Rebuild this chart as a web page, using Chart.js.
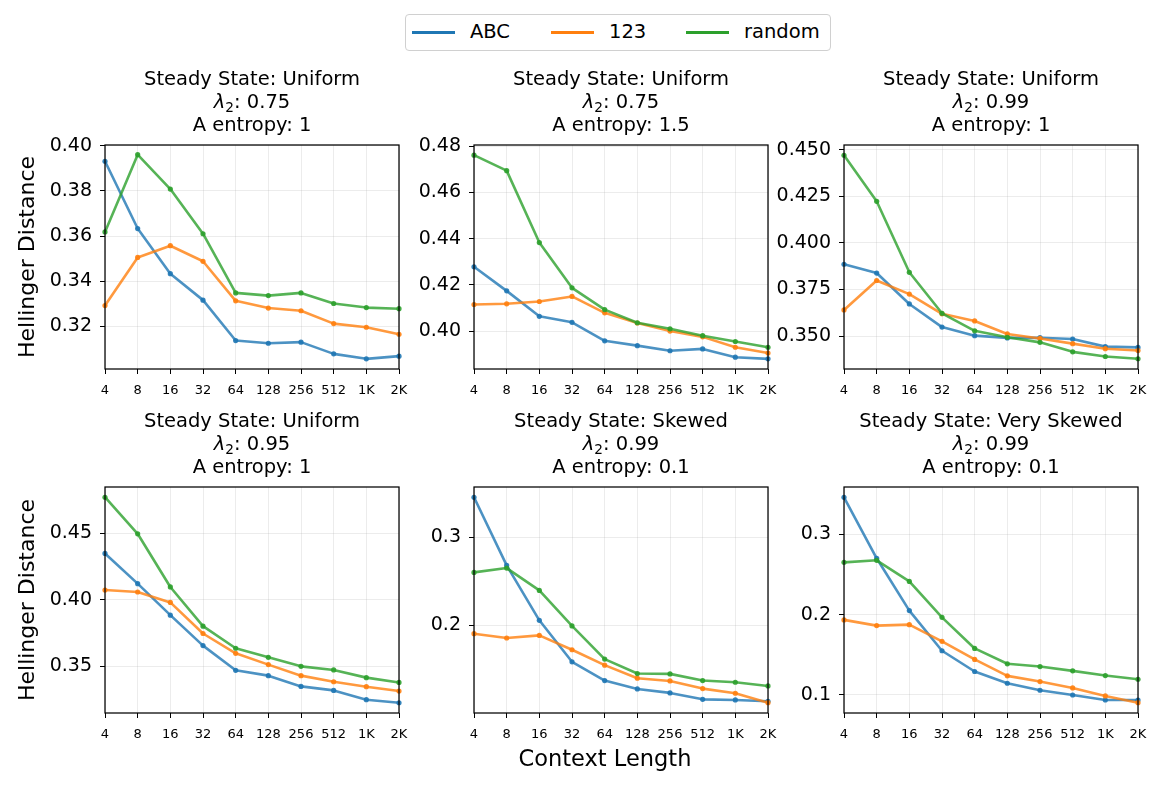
<!DOCTYPE html>
<html>
<head>
<meta charset="utf-8">
<script src="https://cdn.jsdelivr.net/npm/chart.js@4.4.0/dist/chart.umd.min.js"></script>
<style>
  body { margin: 0; width: 1162px; height: 786px; background: #fff; position: relative; overflow: hidden;
         font-family: "DejaVu Sans", sans-serif; color: #000; }
  canvas { position: absolute; }
  .title { position: absolute; width: 360px; text-align: center; font-size: 19.5px; line-height: 23px; white-space: nowrap; }
  .title sub { font-size: 70%; vertical-align: -0.3em; line-height: 0; }
  .ylab { position: absolute; font-size: 22px; white-space: nowrap; transform: translate(-50%, -50%) rotate(-90deg); }
  .xlab { position: absolute; font-size: 22.5px; white-space: nowrap; transform: translate(-50%, -50%); }
  #legend { position: absolute; left: 405px; top: 14px; width: 424px; height: 35px; border: 1px solid #d0d0d0;
            border-radius: 4px; font-size: 19.5px; }
  .sw { position: absolute; top: 16px; width: 43px; height: 3px; }
  .lt { position: absolute; top: 5px; }
</style>
</head>
<body>
<div id="legend"></div>

<script>
// x categories (context length)
const contextLengths = ['4', '8', '16', '32', '64', '128', '256', '512', '1K', '2K'];
const seriesNames = ['ABC', '123', 'random'];
const seriesColors = ['31,119,180', '255,127,14', '44,160,44'];

// panel titles
const steadyStates = ['Uniform', 'Uniform', 'Uniform', 'Uniform', 'Skewed', 'Very Skewed'];
const lambdas = ['0.75', '0.75', '0.99', '0.95', '0.99', '0.99'];
const entropies = ['1', '1.5', '1', '1', '0.1', '0.1'];

// Hellinger distance per panel
const abcValues = [
  [0.3931, 0.3633, 0.3433, 0.3316, 0.3137, 0.3125, 0.3130, 0.3078, 0.3056, 0.3068],
  [0.4278, 0.4174, 0.4064, 0.4038, 0.3958, 0.3937, 0.3915, 0.3923, 0.3887, 0.3880],
  [0.3885, 0.3838, 0.3672, 0.3548, 0.3502, 0.3490, 0.3491, 0.3484, 0.3443, 0.3439],
  [0.4349, 0.4122, 0.3885, 0.3656, 0.3470, 0.3430, 0.3349, 0.3319, 0.3249, 0.3226],
  [0.3453, 0.2680, 0.2057, 0.1586, 0.1373, 0.1278, 0.1233, 0.1160, 0.1153, 0.1138],
  [0.3459, 0.2700, 0.2050, 0.1550, 0.1292, 0.1146, 0.1059, 0.1000, 0.0938, 0.0938]
];
const numValues = [
  [0.3292, 0.3505, 0.3557, 0.3488, 0.3313, 0.3281, 0.3269, 0.3212, 0.3196, 0.3165],
  [0.4115, 0.4118, 0.4128, 0.4150, 0.4079, 0.4035, 0.4000, 0.3975, 0.3930, 0.3905],
  [0.3640, 0.3798, 0.3725, 0.3619, 0.3581, 0.3511, 0.3487, 0.3459, 0.3432, 0.3422],
  [0.4074, 0.4059, 0.3981, 0.3747, 0.3598, 0.3513, 0.3430, 0.3384, 0.3347, 0.3314],
  [0.1905, 0.1856, 0.1886, 0.1723, 0.1548, 0.1400, 0.1369, 0.1282, 0.1229, 0.1122],
  [0.1934, 0.1863, 0.1875, 0.1667, 0.1442, 0.1238, 0.1167, 0.1088, 0.0988, 0.0904]
];
const randomValues = [
  [0.3618, 0.3960, 0.3808, 0.3610, 0.3348, 0.3336, 0.3348, 0.3301, 0.3283, 0.3278],
  [0.4761, 0.4694, 0.4383, 0.4187, 0.4093, 0.4036, 0.4010, 0.3980, 0.3955, 0.3930],
  [0.4470, 0.4223, 0.3842, 0.3622, 0.3528, 0.3493, 0.3466, 0.3415, 0.3390, 0.3378],
  [0.4772, 0.4497, 0.4097, 0.3802, 0.3636, 0.3568, 0.3500, 0.3473, 0.3415, 0.3379],
  [0.2601, 0.2650, 0.2396, 0.1993, 0.1617, 0.1453, 0.1449, 0.1373, 0.1354, 0.1312],
  [0.2650, 0.2675, 0.2413, 0.1966, 0.1579, 0.1388, 0.1354, 0.1300, 0.1242, 0.1196]
];

// y axes
const yMin = [0.3011, 0.3836, 0.3323, 0.3149, 0.1005, 0.0776];
const yMax = [0.4003, 0.4805, 0.4525, 0.4849, 0.3570, 0.3587];
const yTicks = [
  [0.32, 0.34, 0.36, 0.38, 0.40],
  [0.40, 0.42, 0.44, 0.46, 0.48],
  [0.35, 0.375, 0.40, 0.425, 0.45],
  [0.35, 0.40, 0.45],
  [0.2, 0.3],
  [0.1, 0.2, 0.3]
];
const yDecimals = [2, 2, 3, 2, 1, 1];

// layout of plot areas
const colLeft = [105, 474, 844];
const rowTop = [145, 487];
const plotW = 294;
const rowH = [224, 226];
const padL = 70, padT = 26, padR = 24, padB = 38;

// box round each plot, like matplotlib spines
const framePlugin = {
  id: 'frame',
  afterDraw(chart) {
    const a = chart.chartArea, ctx = chart.ctx;
    ctx.save();
    ctx.strokeStyle = '#000';
    ctx.lineWidth = 1.25;
    ctx.strokeRect(a.left, a.top, a.right - a.left, a.bottom - a.top);
    ctx.restore();
  }
};

// legend
const legend = document.getElementById('legend');
const swX = [6, 145, 280];
const txtX = [64, 203, 338];
seriesNames.forEach((n, i) => {
  const s = document.createElement('div');
  s.className = 'sw';
  s.style.left = swX[i] + 'px';
  s.style.background = 'rgb(' + seriesColors[i] + ')';
  legend.appendChild(s);
  const t = document.createElement('div');
  t.className = 'lt';
  t.style.left = txtX[i] + 'px';
  t.textContent = n;
  legend.appendChild(t);
});

function addDiv(cls, html, x, y) {
  const d = document.createElement('div');
  d.className = cls;
  d.innerHTML = html;
  d.style.left = x + 'px';
  d.style.top = y + 'px';
  document.body.appendChild(d);
  return d;
}

for (let p = 0; p < 6; p++) {
  const r = Math.floor(p / 3), c = p % 3;
  const left = colLeft[c], top = rowTop[r], h = rowH[r];

  const cv = document.createElement('canvas');
  cv.width = plotW + padL + padR;
  cv.height = h + padT + padB;
  cv.style.left = (left - padL) + 'px';
  cv.style.top = (top - padT) + 'px';
  document.body.appendChild(cv);

  addDiv('title',
    'Steady State: ' + steadyStates[p] + '<br><i>λ</i><sub>2</sub>: ' + lambdas[p] + '<br>A entropy: ' + entropies[p],
    left + plotW / 2 - 180, top - 78);

  const lists = [abcValues[p], numValues[p], randomValues[p]];
  const datasets = seriesNames.map((n, i) => ({
    label: n,
    data: lists[i],
    borderColor: 'rgba(' + seriesColors[i] + ',0.8)',
    backgroundColor: 'rgba(' + seriesColors[i] + ',0.9)',
    borderWidth: 2.6,
    pointRadius: 2.6,
    pointBorderWidth: 0,
    pointBackgroundColor: 'rgba(' + seriesColors[i] + ',0.9)',
    borderJoinStyle: 'round',
    tension: 0,
    order: 2 - i
  }));

  new Chart(cv, {
    type: 'line',
    data: { labels: contextLengths, datasets: datasets },
    plugins: [framePlugin],
    options: {
      responsive: false,
      animation: false,
      events: [],
      layout: { padding: { left: 0, top: padT, right: padR, bottom: 0 } },
      plugins: { legend: { display: false }, tooltip: { enabled: false } },
      scales: {
        x: {
          offset: false,
          border: { display: false },
          grid: { color: 'rgba(176,176,176,0.3)', lineWidth: 0.8, tickColor: '#000', tickLength: 5, tickWidth: 1 },
          ticks: { color: '#000', font: { family: 'DejaVu Sans', size: 13 }, padding: 9, autoSkip: false, maxRotation: 0 },
          afterFit(s) { s.height = padB; }
        },
        y: {
          min: yMin[p],
          max: yMax[p],
          border: { display: false },
          grid: { color: 'rgba(176,176,176,0.3)', lineWidth: 0.8, tickColor: '#000', tickLength: 5, tickWidth: 1 },
          ticks: {
            color: '#000', font: { family: 'DejaVu Sans', size: 19 }, padding: 8,
            callback: (v) => Number(v).toFixed(yDecimals[p])
          },
          afterBuildTicks(s) { s.ticks = yTicks[p].map(v => ({ value: v })); },
          afterFit(s) { s.width = padL; }
        }
      }
    }
  });
}

addDiv('ylab', 'Hellinger Distance', 26, 257);
addDiv('ylab', 'Hellinger Distance', 26, 600);
addDiv('xlab', 'Context Length', 605, 758);
</script>
</body>
</html>
